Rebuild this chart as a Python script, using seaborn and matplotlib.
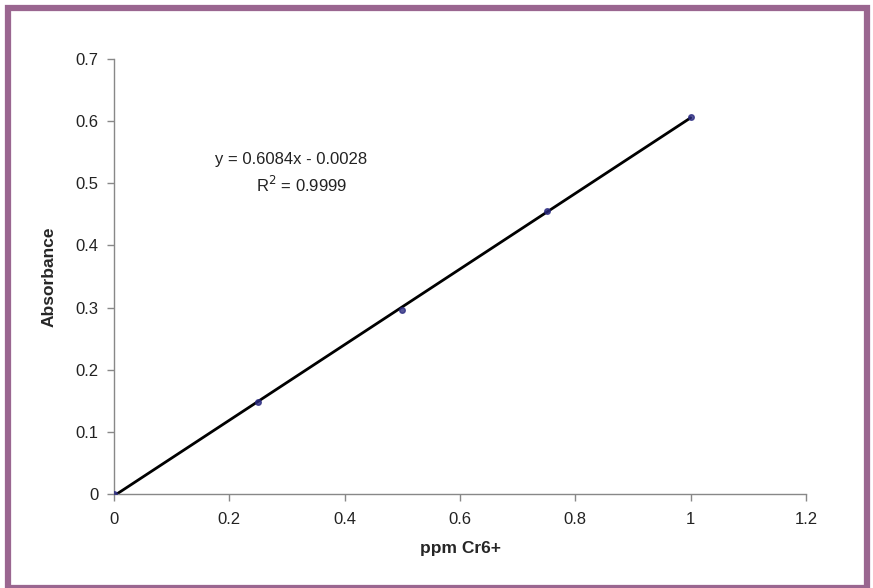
import numpy as np
import pandas as pd
import matplotlib.pyplot as plt
import seaborn as sns
from matplotlib.patches import Rectangle

# Data
ppm = [0, 0.25, 0.5, 0.75, 1.0]
absorbance = [0, 0.148, 0.296, 0.455, 0.607]
x_ticks = [0, 0.2, 0.4, 0.6, 0.8, 1, 1.2]
x_tick_labels = ["0", "0.2", "0.4", "0.6", "0.8", "1", "1.2"]
y_ticks = [0, 0.1, 0.2, 0.3, 0.4, 0.5, 0.6, 0.7]
y_tick_labels = ["0", "0.1", "0.2", "0.3", "0.4", "0.5", "0.6", "0.7"]

df = pd.DataFrame({"ppm": ppm, "abs": absorbance})

sns.set_style("white")
plt.rcParams["font.family"] = ["Liberation Sans", "DejaVu Sans"]

fig = plt.figure(figsize=(8.73, 5.88), dpi=100)
ax = fig.add_axes([114 / 873, 1 - 494 / 588, (806 - 114) / 873, (494 - 59) / 588])

sns.regplot(data=df, x="ppm", y="abs", ax=ax, ci=None,
            scatter_kws={"marker": "D", "s": 16, "color": "#2a2a80", "zorder": 3},
            line_kws={"color": "black", "lw": 2, "zorder": 2})

ax.set_xlim(0, 1.2)
ax.set_ylim(0, 0.7)
ax.set_xticks(x_ticks)
ax.set_xticklabels(x_tick_labels)
ax.set_yticks(y_ticks)
ax.set_yticklabels(y_tick_labels)
ax.tick_params(axis="both", direction="out", length=5, width=1, color="#888888",
               labelsize=12, labelcolor="#222222", bottom=True, left=True)
ax.tick_params(axis="x", pad=8)
ax.tick_params(axis="y", pad=6)

for side in ["top", "right"]:
    ax.spines[side].set_visible(False)
for side in ["left", "bottom"]:
    ax.spines[side].set_color("#888888")
    ax.spines[side].set_linewidth(1)

ax.set_xlabel("ppm Cr6+", fontsize=12.5, fontweight="bold", labelpad=10)
ax.set_ylabel("Absorbance", fontsize=12.5, fontweight="bold", labelpad=14)

ax.text(0.307, 0.5375, "y = 0.6084x - 0.0028", fontsize=12, ha="center", va="center",
        color="#222222")
ax.text(0.326, 0.497, "R$^2$ = 0.9999", fontsize=12, ha="center", va="center",
        color="#222222")

# purple frame around the figure
fig.patches.append(Rectangle((8 / 873, 0.0), (867 - 8) / 873, 1 - 8 / 588,
                             transform=fig.transFigure, fill=False,
                             edgecolor="#9a6690", linewidth=4.5))

fig.savefig("out.png", dpi=100)
